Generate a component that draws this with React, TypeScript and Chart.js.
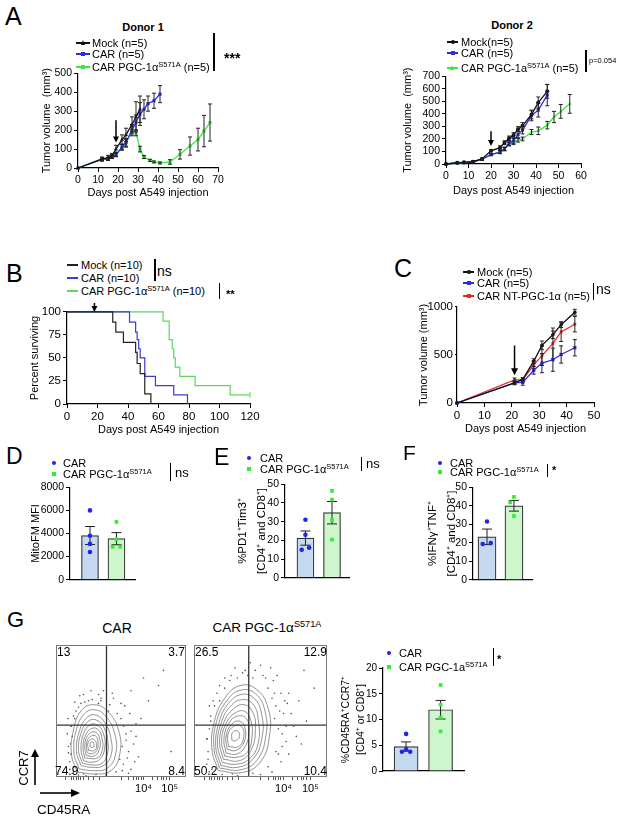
import React, { useEffect, useRef } from 'react';
import { Chart, registerables } from 'chart.js';

const FONT = '"Liberation Sans", Arial, Helvetica, sans-serif';
const BLACK = '#111111';
const BLUE = '#2b2be3';
const GREEN = '#3de83d';
const RED = '#e62a2a';
const BAR_BLUE = '#c5d9f1';
const BAR_GREEN = '#cdf6cd';
const DOT_BLUE = '#2424e6';
const DOT_GREEN = '#2ef02e';

// ---------- Panel A, Donor 1 ----------
const d1MockDays = [0, 12, 15, 17, 19, 22, 24, 27, 29, 31];
const d1MockVol = [0, 48, 55, 65, 100, 150, 175, 230, 270, 310];
const d1MockErr = [0, 10, 12, 12, 20, 25, 35, 40, 80, 70];
const d1CarDays = [0, 12, 15, 17, 19, 22, 24, 27, 29, 31, 33, 35, 38, 41];
const d1CarVol = [0, 45, 48, 60, 70, 110, 135, 200, 240, 285, 310, 340, 355, 390];
const d1CarErr = [0, 8, 8, 10, 10, 15, 20, 30, 40, 60, 50, 40, 40, 45];
const d1PgcDays = [0, 12, 15, 17, 19, 22, 24, 27, 29, 31, 33, 36, 38, 41, 46, 51, 56, 60, 63, 66];
const d1PgcVol = [0, 45, 48, 60, 70, 110, 130, 200, 185, 100, 58, 40, 32, 27, 32, 72, 116, 150, 195, 240];
const d1PgcErr = [0, 8, 8, 10, 10, 15, 20, 20, 15, 15, 8, 6, 5, 5, 12, 25, 48, 60, 83, 98];
const d1XTicks = [0, 10, 20, 30, 40, 50, 60, 70];
const d1YTicks = [0, 100, 200, 300, 400, 500];

// ---------- Panel A, Donor 2 ----------
const d2Days = [0, 5, 8, 12, 16, 20, 24, 26, 28, 30, 32, 34, 38, 41, 45];
const d2MockVol = [0, 10, 13, 18, 40, 105, 130, 170, 205, 230, 278, 305, 395, 490, 580];
const d2MockErr = [0, 3, 3, 5, 6, 8, 15, 15, 18, 20, 20, 25, 35, 45, 55];
const d2CarVol = [0, 8, 10, 18, 38, 75, 95, 120, 165, 185, 235, 270, 385, 430, 550];
const d2CarErr = [0, 3, 3, 5, 6, 8, 12, 15, 18, 20, 25, 30, 40, 55, 85];
const d2PgcDays = [0, 5, 8, 12, 16, 20, 24, 26, 28, 30, 32, 34, 38, 41, 45, 48, 51, 55];
const d2PgcVol = [0, 8, 10, 18, 38, 75, 95, 120, 160, 170, 190, 200, 255, 265, 310, 375, 420, 480];
const d2PgcErr = [0, 3, 3, 5, 6, 8, 12, 12, 15, 15, 15, 15, 20, 30, 30, 45, 55, 75];
const d2XTicks = [0, 10, 20, 30, 40, 50, 60];
const d2YTicks = [0, 100, 200, 300, 400, 500, 600, 700];

// ---------- Panel B (survival) ----------
const bMockDays = [0, 30, 32, 37, 45, 46, 48, 51, 55];
const bMockSurv = [100, 89, 78, 67, 56, 44, 33, 11, 0];
const bCarDays = [0, 41, 45, 46, 47, 48, 51, 58, 70, 79];
const bCarSurv = [100, 89, 78, 70, 60, 50, 30, 20, 10, 0];
const bPgcDays = [0, 63, 67, 69, 70, 71, 74, 84, 107, 120];
const bPgcSurv = [100, 90, 70, 60, 50, 40, 30, 20, 10, 10];
const bXTicks = [0, 20, 40, 60, 80, 100, 120];
const bYTicks = [0, 25, 50, 75, 100];

// ---------- Panel C ----------
const cDays = [0, 21, 24, 28, 31, 35, 38, 43];
const cMockVol = [0, 210, 245, 435, 600, 710, 815, 945];
const cMockErr = [0, 15, 20, 25, 45, 40, 30, 30];
const cCarVol = [0, 210, 215, 340, 415, 450, 505, 575];
const cCarErr = [0, 20, 30, 40, 100, 120, 90, 85];
const cNtVol = [0, 240, 240, 400, 490, 620, 740, 820];
const cNtErr = [0, 20, 20, 40, 100, 160, 100, 80];
const cXTicks = [0, 10, 20, 30, 40, 50];
const cYTicks = [0, 500, 1000];

// ---------- Panels D, E, F, G (bars) ----------
const dCarPts = [6000, 3800, 3100, 2400];
const dPgcPts = [5000, 3500, 2850, 2850];
const dCarJit = [0, 0, 0, 0];
const dPgcJit = [0, 0, -0.14, 0.14];
const dMeans = [3825, 3550];
const dSem = [780, 525];
const dYTicks = [0, 2000, 4000, 6000, 8000];

const eCarPts = [31, 23, 15, 16];
const ePgcPts = [46.5, 41.8, 30.8, 20.4];
const eCarJit = [0, 0, -0.14, 0.14];
const ePgcJit = [0, 0, 0, 0];
const eMeans = [21.2, 34.8];
const eSem = [3.8, 6];
const eYTicks = [0, 10, 20, 30, 40, 50];

const fCarPts = [31.5, 19.3, 19.8];
const fPgcPts = [44.8, 41.8, 34.5];
const fCarJit = [0, -0.16, 0.14];
const fPgcJit = [0, -0.14, 0];
const fMeans = [23.2, 40];
const fSem = [4.2, 2.9];
const fYTicks = [0, 10, 20, 30, 40, 50];

const gCarPts = [7.2, 4.2, 3.75, 3.75];
const gPgcPts = [16.7, 12.9, 10.4, 7.7];
const gCarJit = [0, 0, -0.12, 0.12];
const gPgcJit = [0, 0, 0, 0];
const gMeans = [4.75, 11.9];
const gSem = [0.9, 1.8];
const gYTicks = [0, 5, 10, 15, 20];

// ---------- Panel G flow plots (display units) ----------
const flowGateCar = { x: 2.32, y: 2.04 };
const flowGatePgc = { x: 2.44, y: 2.04 };
const flowMajorTicks = [3.8, 4.85];
const flowMajorLabels = ['10⁴', '10⁵'];
const flowMinorTicks = [0.7, 0.9, 1.0, 1.1, 1.2, 1.3, 1.4, 1.6, 1.8, 2.05, 2.9, 3.2, 3.4, 3.5, 3.6, 3.7, 4.15, 4.35, 4.5, 4.6, 4.7];
const carRings: number[][][] = [
  [[1.15, 0.2], [0.92, 0.9], [1.0, 1.85], [1.3, 2.6], [1.8, 2.85], [2.35, 2.6], [2.8, 1.85], [2.85, 0.9], [2.5, 0.25], [1.8, 0.12], [1.15, 0.2]],
  [[1.22, 0.32], [1.02, 0.95], [1.1, 1.8], [1.4, 2.45], [1.82, 2.65], [2.28, 2.4], [2.65, 1.7], [2.68, 0.88], [2.35, 0.35], [1.8, 0.25], [1.22, 0.32]],
  [[1.3, 0.45], [1.12, 1.0], [1.22, 1.75], [1.5, 2.3], [1.85, 2.45], [2.25, 2.15], [2.5, 1.5], [2.5, 0.85], [2.2, 0.45], [1.75, 0.38], [1.3, 0.45]],
  [[1.35, 0.55], [1.2, 1.05], [1.3, 1.72], [1.57, 2.18], [1.9, 2.25], [2.22, 1.95], [2.38, 1.35], [2.32, 0.8], [2.1, 0.52], [1.7, 0.48], [1.35, 0.55]],
  [[1.4, 0.65], [1.3, 1.1], [1.4, 1.7], [1.65, 2.05], [1.95, 2.05], [2.2, 1.7], [2.25, 1.15], [2.05, 0.7], [1.7, 0.58], [1.4, 0.65]],
  [[1.45, 0.75], [1.38, 1.17], [1.5, 1.68], [1.75, 1.92], [2.0, 1.85], [2.15, 1.5], [2.15, 1.05], [1.95, 0.75], [1.45, 0.75]],
  [[1.5, 0.85], [1.45, 1.25], [1.58, 1.65], [1.85, 1.78], [2.05, 1.5], [2.02, 1.05], [1.8, 0.82], [1.5, 0.85]],
  [[1.55, 0.95], [1.52, 1.3], [1.65, 1.58], [1.88, 1.62], [1.98, 1.38], [1.93, 1.05], [1.75, 0.92], [1.55, 0.95]],
  [[1.6, 1.05], [1.58, 1.35], [1.75, 1.5], [1.92, 1.32], [1.85, 1.05], [1.6, 1.05]],
  [[1.67, 1.18], [1.68, 1.36], [1.8, 1.36], [1.8, 1.18], [1.67, 1.18]],
];
const pgcRings: number[][][] = [
  [[1.25, 0.25], [1.0, 1.1], [1.1, 2.2], [1.5, 3.1], [2.1, 3.6], [2.75, 3.45], [3.2, 2.7], [3.25, 1.6], [2.9, 0.6], [2.2, 0.18], [1.25, 0.25]],
  [[1.3, 0.35], [1.08, 1.15], [1.18, 2.18], [1.58, 3.0], [2.12, 3.42], [2.7, 3.28], [3.08, 2.58], [3.1, 1.55], [2.75, 0.65], [2.1, 0.28], [1.3, 0.35]],
  [[1.35, 0.45], [1.15, 1.2], [1.28, 2.15], [1.65, 2.9], [2.15, 3.25], [2.65, 3.1], [2.95, 2.45], [2.95, 1.5], [2.6, 0.7], [2.0, 0.38], [1.35, 0.45]],
  [[1.4, 0.58], [1.22, 1.28], [1.36, 2.12], [1.72, 2.78], [2.2, 3.05], [2.62, 2.85], [2.82, 2.2], [2.8, 1.3], [2.45, 0.7], [1.9, 0.5], [1.4, 0.58]],
  [[1.45, 0.7], [1.3, 1.35], [1.45, 2.1], [1.8, 2.65], [2.25, 2.85], [2.6, 2.55], [2.7, 1.9], [2.55, 1.1], [2.1, 0.65], [1.45, 0.7]],
  [[1.5, 0.82], [1.38, 1.42], [1.55, 2.1], [1.9, 2.52], [2.3, 2.58], [2.53, 2.2], [2.57, 1.6], [2.4, 1.0], [2.0, 0.78], [1.5, 0.82]],
  [[1.55, 0.95], [1.47, 1.5], [1.65, 2.1], [2.0, 2.4], [2.35, 2.3], [2.45, 1.8], [2.3, 1.2], [1.95, 0.9], [1.55, 0.95]],
  [[1.6, 1.08], [1.55, 1.58], [1.75, 2.05], [2.08, 2.2], [2.3, 1.9], [2.25, 1.35], [1.95, 1.05], [1.6, 1.08]],
  [[1.65, 1.2], [1.62, 1.65], [1.85, 2.0], [2.15, 2.0], [2.25, 1.6], [2.05, 1.2], [1.65, 1.2]],
  [[1.78, 1.45], [1.8, 1.75], [2.0, 1.82], [2.08, 1.58], [1.9, 1.42], [1.78, 1.45]],
];
const carDots: number[][] = [
  [1.0, 0.4], [0.9, 0.9], [0.95, 1.6], [1.05, 2.3], [1.3, 2.9], [1.6, 3.0], [2.0, 2.9], [2.4, 2.6], [2.9, 2.3], [3.1, 1.7],
  [3.2, 1.0], [3.0, 0.5], [2.7, 0.2], [1.9, 0.1], [1.4, 0.12], [0.8, 1.2], [1.1, 2.6], [2.6, 3.1], [3.4, 1.3], [3.5, 2.1],
  [4.0, 3.0], [4.4, 3.6], [4.6, 4.2], [3.8, 3.9], [3.3, 3.4], [4.9, 1.0], [2.2, 3.4], [1.7, 3.4], [0.85, 0.3], [3.3, 0.3],
  [0.9, 2.0], [2.95, 1.2], [3.05, 2.8], [1.25, 3.2], [2.85, 0.7], [1.0, 0.2], [3.6, 0.8], [2.1, 3.1], [1.5, 0.05], [0.75, 1.7],
  [0.85, 0.6], [0.88, 1.3], [0.92, 2.0], [1.0, 2.4], [1.2, 2.75], [1.45, 2.95], [1.75, 3.05], [2.1, 3.0], [2.45, 2.85], [2.75, 2.5],
  [3.0, 2.0], [3.1, 1.45], [3.15, 0.75], [2.95, 0.25], [2.3, 0.08], [1.2, 0.08], [0.95, 0.15], [3.3, 1.8], [3.25, 2.5], [2.9, 2.9],
  [0.8, 0.95], [1.05, 2.95], [2.55, 3.3], [3.5, 1.6], [3.45, 0.6], [3.7, 2.3], [2.0, 3.25], [1.4, 3.25], [0.78, 2.3], [3.2, 0.15],
];
const pgcDots: number[][] = [
  [1.0, 0.3], [0.85, 1.0], [0.9, 1.9], [1.1, 2.8], [1.5, 3.5], [2.0, 3.9], [2.6, 3.9], [3.2, 3.5], [3.5, 2.8], [3.6, 1.9],
  [3.5, 1.0], [3.2, 0.4], [2.6, 0.15], [1.8, 0.12], [0.8, 0.5], [1.2, 3.3], [2.3, 4.2], [3.0, 4.0], [3.8, 2.5], [3.9, 1.4],
  [4.0, 3.3], [3.7, 0.6], [1.4, 0.1], [4.2, 2.0], [4.5, 1.3], [0.95, 2.4], [2.9, 4.4], [3.4, 3.8], [5.0, 3.5], [4.6, 4.2],
  [3.35, 3.1], [3.45, 2.3], [0.8, 1.5], [1.3, 3.0], [2.4, 4.0], [3.7, 3.3], [3.75, 1.2], [0.9, 0.2], [3.95, 2.9], [1.7, 3.8],
  [0.85, 0.7], [0.82, 1.5], [0.95, 2.2], [1.05, 3.0], [1.3, 3.6], [1.75, 4.0], [2.2, 4.1], [2.7, 4.2], [3.1, 3.9], [3.45, 3.3],
  [3.65, 2.6], [3.75, 1.7], [3.6, 0.9], [3.35, 0.2], [2.9, 0.1], [2.0, 0.05], [1.1, 0.12], [3.9, 2.0], [3.85, 3.0], [4.1, 2.5],
  [4.3, 1.6], [3.3, 4.3], [2.5, 4.5], [1.5, 3.9], [0.9, 2.8], [4.0, 0.9], [4.4, 3.0], [3.55, 4.0], [1.9, 4.3], [4.7, 2.2],
];

// ---------------- plugins ----------------
const errBars = {
  id: 'errBars',
  afterDatasetDraw(chart: any, args: any) {
    const ds: any = chart.data.datasets[args.index];
    if (!ds || !ds.errors) return;
    const meta = args.meta;
    const ys = chart.scales[meta.yAxisID];
    const ctx = chart.ctx;
    ctx.save();
    ctx.strokeStyle = ds.errorColor || '#222';
    ctx.lineWidth = ds.errorWidth || 1;
    const cap = ds.errorCap ?? 2;
    meta.data.forEach((el: any, i: number) => {
      const e = ds.errors[i];
      if (!e) return;
      const raw = ds.data[i];
      const v = typeof raw === 'object' ? raw.y : raw;
      const x = el.x;
      const yt = ys.getPixelForValue(v + e);
      const yb = ys.getPixelForValue(Math.max(ys.min, v - e));
      ctx.beginPath();
      ctx.moveTo(x, yt); ctx.lineTo(x, yb);
      ctx.moveTo(x - cap, yt); ctx.lineTo(x + cap, yt);
      ctx.moveTo(x - cap, yb); ctx.lineTo(x + cap, yb);
      ctx.stroke();
    });
    ctx.restore();
  },
};

const arrowMark = {
  id: 'arrowMark',
  afterDatasetsDraw(chart: any, _a: any, opts: any) {
    if (!opts || opts.at == null) return;
    const ctx = chart.ctx;
    const x = chart.scales.x.getPixelForValue(opts.at);
    const y1 = chart.scales.y.getPixelForValue(opts.from);
    const y2 = chart.scales.y.getPixelForValue(opts.to);
    const head = opts.head ?? 6;
    ctx.save();
    ctx.strokeStyle = '#000';
    ctx.fillStyle = '#000';
    ctx.lineWidth = 1.5;
    ctx.beginPath(); ctx.moveTo(x, y1); ctx.lineTo(x, y2 - head + 1); ctx.stroke();
    ctx.beginPath();
    ctx.moveTo(x - head * 0.5, y2 - head);
    ctx.lineTo(x + head * 0.5, y2 - head);
    ctx.lineTo(x, y2);
    ctx.closePath();
    ctx.fill();
    ctx.restore();
  },
};

const frameBox = {
  id: 'frameBox',
  afterDatasetsDraw(chart: any, _a: any, opts: any) {
    if (!opts || !opts.color) return;
    const { left, top, right, bottom } = chart.chartArea;
    const ctx = chart.ctx;
    ctx.save();
    ctx.strokeStyle = opts.color;
    ctx.lineWidth = 1;
    ctx.strokeRect(left + 0.5, top + 0.5, right - left - 1, bottom - top - 1);
    ctx.restore();
  },
};

Chart.register(...registerables, errBars, arrowMark, frameBox);

// ---------------- helpers ----------------
type M = { l: number; t: number; r: number; b: number };

function yAxis(p: { min: number; max: number; ticks: number[]; size: number; width: number; title?: string | string[]; tSize?: number; tLH?: number; tickLen?: number }) {
  return {
    type: 'linear', position: 'left', min: p.min, max: p.max,
    afterBuildTicks: (s: any) => { s.ticks = p.ticks.map((v) => ({ value: v })); },
    afterFit: (s: any) => { s.width = p.width; },
    grid: { display: true, drawOnChartArea: false, drawTicks: true, tickLength: p.tickLen ?? 4, color: '#000', lineWidth: 1 },
    border: { display: true, color: '#000', width: 1.2 },
    ticks: { color: '#000', font: { family: FONT, size: p.size }, padding: 2, autoSkip: false, callback: (v: any) => String(v) },
    title: p.title
      ? { display: true, text: p.title, color: '#000', font: { family: FONT, size: p.tSize ?? 11, lineHeight: p.tLH ?? 1.2 }, padding: 0 }
      : { display: false },
  };
}

function xAxis(p: { min: number; max: number; ticks: number[]; size: number; height: number; title?: string }) {
  return {
    type: 'linear', position: 'bottom', min: p.min, max: p.max,
    afterBuildTicks: (s: any) => { s.ticks = p.ticks.map((v) => ({ value: v })); },
    afterFit: (s: any) => { s.height = p.height; },
    grid: { display: true, drawOnChartArea: false, drawTicks: true, tickLength: 4, color: '#000', lineWidth: 1 },
    border: { display: true, color: '#000', width: 1.2 },
    ticks: { color: '#000', font: { family: FONT, size: p.size }, padding: 2, autoSkip: false, maxRotation: 0, callback: (v: any) => String(v) },
    title: p.title
      ? { display: true, text: p.title, color: '#000', font: { family: FONT, size: 11, lineHeight: 1.2 }, padding: 0 }
      : { display: false },
  };
}

function barX(min: number, max: number, height: number) {
  return {
    type: 'linear', position: 'bottom', min, max, offset: false,
    afterFit: (s: any) => { s.height = height; },
    grid: { display: false, offset: false },
    border: { display: true, color: '#000', width: 1.2 },
    ticks: { display: false },
  };
}

function baseOpts(m: M, scales: any, plugins: any = {}, padLeft = 0) {
  return {
    responsive: false,
    maintainAspectRatio: false,
    animation: false,
    devicePixelRatio: 1,
    events: [],
    layout: { padding: { left: padLeft, top: m.t, right: m.r, bottom: 0 } },
    plugins: { legend: { display: false }, tooltip: { enabled: false }, ...plugins },
    scales,
  };
}

function lineDs(xs: number[], ys: number[], errs: number[] | null, color: string, shape: string, radius = 2.2) {
  return {
    data: xs.map((x, i) => ({ x, y: ys[i] })),
    borderColor: color,
    backgroundColor: color,
    borderWidth: 1.3,
    pointStyle: shape,
    pointRadius: radius,
    pointBorderWidth: 0,
    errors: errs,
    errorColor: '#222',
    errorCap: 2,
    clip: false,
    tension: 0,
  };
}

function survDs(xs: number[], ys: number[], color: string, censorLast = false) {
  return {
    data: xs.map((x, i) => ({ x, y: ys[i] })),
    borderColor: color,
    backgroundColor: color,
    borderWidth: 1.2,
    stepped: 'before',
    pointStyle: 'line',
    rotation: 90,
    pointRadius: xs.map((_, i) => (censorLast && i === xs.length - 1 ? 3 : 0)),
    pointBorderColor: color,
    pointBorderWidth: 1,
    clip: false,
  };
}

function barChart(m: M, xr: [number, number], thick: number, yMax: number, yTicks: number[], ySize: number, title: string | string[], tSize: number, tLH: number,
  means: number[], sem: number[], carPts: number[], carJit: number[], pgcPts: number[], pgcJit: number[]) {
  return {
    type: 'bar',
    data: {
      datasets: [
        {
          type: 'scatter', order: 0,
          data: carPts.map((v, i) => ({ x: 0 + carJit[i], y: v })),
          pointStyle: 'circle', pointRadius: 2.3, backgroundColor: DOT_BLUE, borderWidth: 0, clip: false,
        },
        {
          type: 'scatter', order: 0,
          data: pgcPts.map((v, i) => ({ x: 1 + pgcJit[i], y: v })),
          pointStyle: 'rect', pointRadius: 2.6, backgroundColor: DOT_GREEN, borderWidth: 0, clip: false,
        },
        {
          type: 'bar', order: 1,
          data: means.map((v, i) => ({ x: i, y: v })),
          backgroundColor: [BAR_BLUE, BAR_GREEN],
          borderColor: '#333',
          borderWidth: 1.2,
          borderSkipped: 'bottom',
          barThickness: thick,
          errors: sem,
          errorColor: '#222',
          errorCap: 5,
        },
      ],
    },
    options: baseOpts(m, {
      x: barX(xr[0], xr[1], m.b),
      y: yAxis({ min: 0, max: yMax, ticks: yTicks, size: ySize, width: m.l, title, tSize, tLH }),
    }),
  };
}

function flowChart(m: M, rings: number[][][], dots: number[][], gate: { x: number; y: number }) {
  const ds: any[] = [];
  ds.push({
    data: [{ x: gate.x, y: 0 }, { x: gate.x, y: 5.2 }], showLine: true, borderColor: '#333', borderWidth: 1.3, pointRadius: 0, order: 0,
  });
  ds.push({
    data: [{ x: 0.3, y: gate.y }, { x: 5.5, y: gate.y }], showLine: true, borderColor: '#333', borderWidth: 1.3, pointRadius: 0, order: 0,
  });
  rings.forEach((r) => {
    ds.push({
      data: r.map((p) => ({ x: p[0], y: p[1] })), showLine: true, tension: 0.45, borderColor: '#707070', borderWidth: 0.75, pointRadius: 0, order: 1,
    });
  });
  ds.push({
    data: dots.map((p) => ({ x: p[0], y: p[1] })), pointRadius: 0.8, backgroundColor: '#555', borderWidth: 0, order: 2,
  });
  const allTicks = [...flowMinorTicks, ...flowMajorTicks];
  return {
    type: 'scatter',
    data: { datasets: ds },
    options: baseOpts(m, {
      x: {
        type: 'linear', min: 0.3, max: 5.5,
        afterBuildTicks: (s: any) => { s.ticks = allTicks.map((v) => ({ value: v })); },
        afterFit: (s: any) => { s.height = m.b; },
        grid: { display: true, drawOnChartArea: false, drawTicks: true, tickLength: 3, color: '#555', lineWidth: 1 },
        border: { display: false },
        ticks: {
          color: '#000', font: { family: FONT, size: 11 }, padding: 2, autoSkip: false, maxRotation: 0,
          callback: (v: any) => { const k = flowMajorTicks.indexOf(v); return k >= 0 ? flowMajorLabels[k] : ''; },
        },
      },
      y: { type: 'linear', min: 0, max: 5.2, display: false },
    }, { frameBox: { color: '#777' } }, m.l),
  };
}

function ChartBox({ area, m, make }: { area: number[]; m: M; make: () => any }) {
  const ref = useRef<HTMLCanvasElement>(null);
  const w = area[2] - area[0] + m.l + m.r;
  const h = area[3] - area[1] + m.t + m.b;
  useEffect(() => {
    const c = new Chart(ref.current as HTMLCanvasElement, make());
    return () => c.destroy();
  }, []);
  return (
    <canvas ref={ref} width={w} height={h}
      style={{ position: 'absolute', left: area[0] - m.l, top: area[1] - m.t, width: w, height: h }} />
  );
}

// ---------- HTML text helpers ----------
const supStyle: React.CSSProperties = { fontSize: '0.68em', verticalAlign: '0.5em', lineHeight: 0 };

function T({ x, cy, size = 11, bold = false, anchor = 'start', children }: any) {
  const tx = anchor === 'middle' ? 'translateX(-50%)' : anchor === 'end' ? 'translateX(-100%)' : 'none';
  return (
    <div style={{
      position: 'absolute', left: x, top: cy - 0.49 * size, fontSize: size, lineHeight: 1, fontWeight: bold ? 'bold' : 'normal',
      whiteSpace: 'nowrap', transform: tx, fontFamily: FONT, color: '#000',
    }}>{children}</div>
  );
}

function Marker({ x, cy, color, shape, size = 4.5 }: any) {
  if (shape === 'tri') {
    return <div style={{
      position: 'absolute', left: x - size / 2 - 0.5, top: cy - size / 2 - 1, width: 0, height: 0,
      borderLeft: `${size / 2 + 0.5}px solid transparent`, borderRight: `${size / 2 + 0.5}px solid transparent`,
      borderBottom: `${size + 1}px solid ${color}`,
    }} />;
  }
  return <div style={{
    position: 'absolute', left: x - size / 2, top: cy - size / 2, width: size, height: size, background: color,
    borderRadius: shape === 'circle' ? '50%' : 0,
  }} />;
}

function LineKey({ x, w, cy, color, shape, mark = true }: any) {
  return (
    <>
      <div style={{ position: 'absolute', left: x, top: cy - 0.65, width: w, height: 1.3, background: color }} />
      {mark ? <Marker x={x + w / 2} cy={cy} color={color} shape={shape} size={4} /> : null}
    </>
  );
}

function VBar({ x, y0, y1, w = 1.5 }: any) {
  return <div style={{ position: 'absolute', left: x, top: y0, width: w, height: y1 - y0, background: '#000' }} />;
}

const PGC = ({ a = 'α' }: any) => <>CAR PGC-1{a}<sup style={supStyle}>S571A</sup></>;

// ---------- layout ----------
const A1 = { area: [78, 73, 218, 168], m: { l: 38, t: 8, r: 12, b: 32 } };
const A2 = { area: [446, 76, 581, 164], m: { l: 45, t: 8, r: 14, b: 34 } };
const PB = { area: [67, 311, 250, 404], m: { l: 39, t: 8, r: 12, b: 33 } };
const PC = { area: [457, 306, 594, 403], m: { l: 40, t: 8, r: 14, b: 33 } };
const PD = { area: [70, 487, 135, 584], m: { l: 41, t: 8, r: 4, b: 4 } };
const PE = { area: [285, 484, 349, 582], m: { l: 52, t: 8, r: 4, b: 4 } };
const PF = { area: [473, 487, 532, 584], m: { l: 50, t: 8, r: 4, b: 4 } };
const PG = { area: [383, 668, 464, 775], m: { l: 44, t: 8, r: 4, b: 4 } };
const FL1 = { area: [53, 642, 189, 777], m: { l: 1, t: 1, r: 1, b: 20 } };
const FL2 = { area: [191, 642, 330, 777], m: { l: 1, t: 1, r: 1, b: 20 } };

export default function App() {
  return (
    <div style={{ position: 'absolute', left: 0, top: 0, width: 620, height: 817, background: '#fff', overflow: 'hidden', fontFamily: FONT }}>
      {/* ---------------- A: Donor 1 ---------------- */}
      <ChartBox area={A1.area} m={A1.m} make={() => ({
        type: 'line',
        data: {
          datasets: [
            lineDs(d1MockDays, d1MockVol, d1MockErr, BLACK, 'triangle', 2.3),
            lineDs(d1CarDays, d1CarVol, d1CarErr, BLUE, 'rect'),
            lineDs(d1PgcDays, d1PgcVol, d1PgcErr, GREEN, 'rect'),
          ],
        },
        options: baseOpts(A1.m, {
          x: xAxis({ min: 0, max: 70, ticks: d1XTicks, size: 10.5, height: A1.m.b, title: 'Days post A549 injection' }),
          y: yAxis({ min: 0, max: 500, ticks: d1YTicks, size: 10.5, width: A1.m.l, title: 'Tumor volume  (mm³)' }),
        }, { arrowMark: { at: 19, from: 252, to: 135 } }),
      })} />
      <T x={5} cy={16} size={25}>A</T>
      <T x={143} cy={27} size={11} bold anchor="middle">Donor 1</T>
      <LineKey x={76} w={14} cy={43} color={BLACK} shape="tri" />
      <T x={92} cy={43}>Mock (n=5)</T>
      <LineKey x={76} w={14} cy={54} color={BLUE} shape="rect" />
      <T x={92} cy={54}>CAR (n=5)</T>
      <LineKey x={76} w={14} cy={67} color={GREEN} shape="rect" />
      <T x={92} cy={67}><PGC /> (n=5)</T>
      <VBar x={213} y0={33} y1={71} />
      <T x={224} cy={58} size={14} bold>***</T>

      {/* ---------------- A: Donor 2 ---------------- */}
      <ChartBox area={A2.area} m={A2.m} make={() => ({
        type: 'line',
        data: {
          datasets: [
            lineDs(d2Days, d2MockVol, d2MockErr, BLACK, 'circle', 2),
            lineDs(d2Days, d2CarVol, d2CarErr, BLUE, 'rect'),
            lineDs(d2PgcDays, d2PgcVol, d2PgcErr, GREEN, 'triangle', 2),
          ],
        },
        options: baseOpts(A2.m, {
          x: xAxis({ min: 0, max: 60, ticks: d2XTicks, size: 10.5, height: A2.m.b, title: 'Days post A549 injection' }),
          y: yAxis({ min: 0, max: 700, ticks: d2YTicks, size: 10.5, width: A2.m.l, title: 'Tumor volume  (mm³)' }),
        }, { arrowMark: { at: 20, from: 262, to: 143 } }),
      })} />
      <T x={512} cy={25} size={11} bold anchor="middle">Donor 2</T>
      <LineKey x={447} w={11} cy={42} color={BLACK} shape="circle" />
      <T x={461} cy={42}>Mock(n=5)</T>
      <LineKey x={447} w={11} cy={53} color={BLUE} shape="rect" />
      <T x={461} cy={53}>CAR (n=5)</T>
      <LineKey x={447} w={11} cy={68} color={GREEN} shape="tri" />
      <T x={461} cy={68}><PGC a="a" /> (n=5)</T>
      <VBar x={585} y0={50} y1={72} />
      <T x={589} cy={61} size={7.5}>p=0.054</T>

      {/* ---------------- B ---------------- */}
      <ChartBox area={PB.area} m={PB.m} make={() => ({
        type: 'line',
        data: {
          datasets: [
            survDs(bMockDays, bMockSurv, '#222'),
            survDs(bCarDays, bCarSurv, '#3a3ad6'),
            survDs(bPgcDays, bPgcSurv, '#5cd85c', true),
          ],
        },
        options: baseOpts(PB.m, {
          x: xAxis({ min: 0, max: 120, ticks: bXTicks, size: 11.5, height: PB.m.b, title: 'Days post A549 injection' }),
          y: yAxis({ min: 0, max: 100, ticks: bYTicks, size: 11.5, width: PB.m.l, title: 'Percent surviving' }),
        }, { arrowMark: { at: 18, from: 120, to: 100, head: 6 } }),
      })} />
      <T x={6} cy={273} size={25}>B</T>
      <LineKey x={67} w={11} cy={265} color="#222" shape="circle" mark={false} />
      <T x={81} cy={265}>Mock (n=10)</T>
      <LineKey x={67} w={11} cy={278} color="#3a3ad6" shape="circle" mark={false} />
      <T x={81} cy={278}>CAR (n=10)</T>
      <LineKey x={67} w={11} cy={291} color="#5cd85c" shape="circle" mark={false} />
      <T x={81} cy={291}><PGC /> (n=10)</T>
      <VBar x={154} y0={259} y1={281} />
      <T x={157} cy={271} size={14}>ns</T>
      <VBar x={219} y0={283} y1={299} w={1.2} />
      <T x={226} cy={294} size={11} bold>**</T>

      {/* ---------------- C ---------------- */}
      <ChartBox area={PC.area} m={PC.m} make={() => ({
        type: 'line',
        data: {
          datasets: [
            lineDs(cDays, cMockVol, cMockErr, BLACK, 'circle', 1.8),
            lineDs(cDays, cCarVol, cCarErr, BLUE, 'rect', 2.3),
            lineDs(cDays, cNtVol, cNtErr, RED, 'rect', 2),
          ],
        },
        options: baseOpts(PC.m, {
          x: xAxis({ min: 0, max: 50, ticks: cXTicks, size: 11.5, height: PC.m.b, title: 'Days post A549 injection' }),
          y: yAxis({ min: 0, max: 1000, ticks: cYTicks, size: 11.5, width: PC.m.l, title: 'Tumor volume (mm³)', tickLen: 2 }),
        }, { arrowMark: { at: 21, from: 598, to: 289, head: 7 } }),
      })} />
      <T x={394} cy={268} size={25}>C</T>
      <LineKey x={463} w={11} cy={272} color={BLACK} shape="circle" />
      <T x={477} cy={272}>Mock (n=5)</T>
      <LineKey x={463} w={11} cy={283} color={BLUE} shape="rect" />
      <T x={477} cy={283}>CAR (n=5)</T>
      <LineKey x={463} w={11} cy={296} color={RED} shape="rect" />
      <T x={477} cy={296}>CAR NT-PGC-1α (n=5)</T>
      <VBar x={593} y0={283} y1={300} w={1.2} />
      <T x={596} cy={289} size={14}>ns</T>

      {/* ---------------- D ---------------- */}
      <ChartBox area={PD.area} m={PD.m} make={() => barChart(PD.m, [-0.755, 1.7], 17, 8000, dYTicks, 10.5, 'MitoFM MFI', 11, 1.2,
        dMeans, dSem, dCarPts, dCarJit, dPgcPts, dPgcJit)} />
      <T x={6} cy={456} size={23}>D</T>
      <Marker x={54} cy={463} color={DOT_BLUE} shape="circle" size={4} />
      <T x={63} cy={463}>CAR</T>
      <Marker x={54} cy={474} color={DOT_GREEN} shape="rect" size={4} />
      <T x={63} cy={474}><PGC /></T>
      <VBar x={170} y0={463} y1={481} w={1.2} />
      <T x={175} cy={472} size={13}>ns</T>

      {/* ---------------- E ---------------- */}
      <ChartBox area={PE.area} m={PE.m} make={() => barChart(PE.m, [-0.77, 1.64], 17, 50, eYTicks, 10.5, ['%PD1⁺Tim3⁺', '[CD4⁺ and CD8⁺]'], 11.5, 1.65,
        eMeans, eSem, eCarPts, eCarJit, ePgcPts, ePgcJit)} />
      <T x={214} cy={457} size={23}>E</T>
      <Marker x={249} cy={458} color={DOT_BLUE} shape="circle" size={4} />
      <T x={260} cy={458}>CAR</T>
      <Marker x={249} cy={469} color={DOT_GREEN} shape="rect" size={4} />
      <T x={260} cy={469}><PGC /></T>
      <VBar x={361} y0={457} y1={471} w={1.2} />
      <T x={366} cy={463} size={13}>ns</T>

      {/* ---------------- F ---------------- */}
      <ChartBox area={PF.area} m={PF.m} make={() => barChart(PF.m, [-0.52, 1.67], 18, 50, fYTicks, 10.5, ['%IFNγ⁺TNF⁺', '[CD4⁺ and CD8⁺]'], 11.5, 1.65,
        fMeans, fSem, fCarPts, fCarJit, fPgcPts, fPgcJit)} />
      <T x={403} cy={452} size={21}>F</T>
      <Marker x={440} cy={463} color={DOT_BLUE} shape="circle" size={4} />
      <T x={450} cy={463}>CAR</T>
      <Marker x={440} cy={472} color={DOT_GREEN} shape="rect" size={4} />
      <T x={450} cy={472}><PGC /></T>
      <VBar x={547} y0={464} y1={477} w={1.2} />
      <T x={552} cy={470} size={11} bold>*</T>

      {/* ---------------- G ---------------- */}
      <T x={7} cy={620} size={22}>G</T>
      <T x={117} cy={628} size={14} anchor="middle">CAR</T>
      <T x={267} cy={628} size={13.5} anchor="middle"><PGC /></T>
      <ChartBox area={FL1.area} m={FL1.m} make={() => flowChart(FL1.m, carRings, carDots, flowGateCar)} />
      <ChartBox area={FL2.area} m={FL2.m} make={() => flowChart(FL2.m, pgcRings, pgcDots, flowGatePgc)} />
      <T x={57} cy={652} size={12}>13</T>
      <T x={185} cy={652} size={12} anchor="end">3.7</T>
      <T x={55} cy={771} size={12}>74.9</T>
      <T x={185} cy={771} size={12} anchor="end">8.4</T>
      <T x={195} cy={652} size={12}>26.5</T>
      <T x={327} cy={652} size={12} anchor="end">12.9</T>
      <T x={194} cy={771} size={12}>50.2</T>
      <T x={327} cy={771} size={12} anchor="end">10.4</T>
      <div style={{ position: 'absolute', left: 23, top: 768, transform: 'translate(-50%,-50%) rotate(-90deg)', fontSize: 13, lineHeight: 1, whiteSpace: 'nowrap', fontFamily: FONT }}>CCR7</div>
      <svg style={{ position: 'absolute', left: 0, top: 740, overflow: 'visible' }} width={100} height={60}>
        <line x1={35} y1={45} x2={35} y2={16} stroke="#000" strokeWidth={1.6} />
        <polygon points="31,17 39,17 35,9" fill="#000" />
        <line x1={40} y1={53} x2={72} y2={53} stroke="#000" strokeWidth={1.6} />
        <polygon points="71,49 71,57 80,53" fill="#000" />
      </svg>
      <T x={37} cy={810} size={13.5}>CD45RA</T>

      <ChartBox area={PG.area} m={PG.m} make={() => barChart(PG.m, [-0.67, 1.68], 24, 20, gYTicks, 10, ['%CD45RA⁺CCR7⁺', '[CD4⁺ or CD8⁺]'], 10.5, 1.43,
        gMeans, gSem, gCarPts, gCarJit, gPgcPts, gPgcJit)} />
      <Marker x={389} cy={653} color={DOT_BLUE} shape="circle" size={4} />
      <T x={399} cy={653}>CAR</T>
      <Marker x={389} cy={667} color={DOT_GREEN} shape="rect" size={4} />
      <T x={399} cy={667}><PGC a="a" /></T>
      <VBar x={493} y0={648} y1={666} w={1.2} />
      <T x={497} cy={659} size={11} bold>*</T>
    </div>
  );
}
